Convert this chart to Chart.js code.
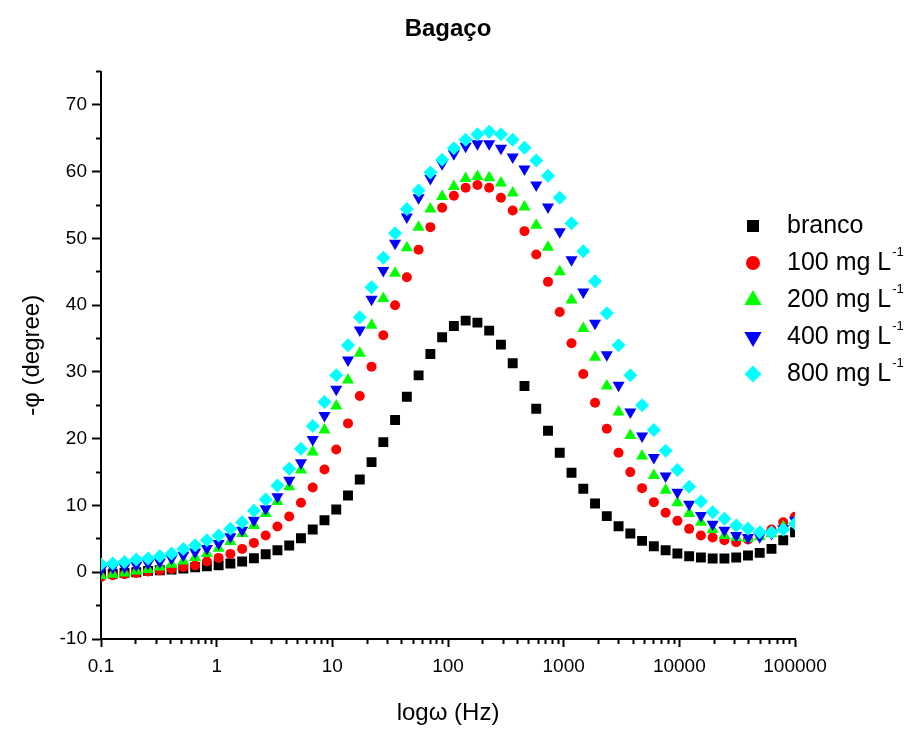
<!DOCTYPE html>
<html>
<head>
<meta charset="utf-8">
<title>Bagaço</title>
<script src="https://cdn.jsdelivr.net/npm/chart.js@4.4.0/dist/chart.umd.min.js"></script>
<style>
  body { margin: 0; background: #fff; }
  #wrap { width: 909px; height: 738px; }
</style>
</head>
<body>
<div id="wrap"><canvas id="grafico" width="909" height="738"></canvas></div>
<script>
// frequencias (Hz), 60 pontos de 0.1 a 100000
var freq = [0.1, 0.1264, 0.1597, 0.2018, 0.2551, 0.3224, 0.4074, 0.5149, 0.6511, 0.8228,
  1.040, 1.314, 1.661, 2.099, 2.653, 3.353, 4.238, 5.355, 6.768, 8.554,
  10.81, 13.66, 17.27, 21.83, 27.59, 34.87, 44.07, 55.70, 70.40, 88.97,
  112.4, 142.1, 179.6, 227.0, 286.9, 362.6, 458.3, 579.2, 732.0, 925.1,
  1169, 1478, 1867, 2360, 2983, 3770, 4764, 6022, 7611, 9619,
  12160, 15370, 19420, 24540, 31020, 39210, 49550, 62620, 79130, 100000];

// -fase (graus)
var branco = [-0.3, -0.2, -0.1, 0.0, 0.2, 0.3, 0.4, 0.55, 0.75, 0.9,
  1.05, 1.3, 1.6, 2.1, 2.7, 3.3, 4.0, 5.1, 6.4, 7.8,
  9.4, 11.5, 13.9, 16.5, 19.5, 22.8, 26.3, 29.5, 32.7, 35.2,
  36.9, 37.7, 37.4, 36.2, 34.1, 31.3, 27.9, 24.5, 21.2, 17.9,
  14.9, 12.5, 10.3, 8.4, 6.9, 5.8, 4.7, 3.9, 3.3, 2.8,
  2.4, 2.2, 2.05, 2.05, 2.2, 2.5, 2.9, 3.5, 4.8, 6.0];
var mg100 = [-0.7, -0.45, -0.3, -0.1, 0.1, 0.25, 0.5, 0.8, 1.0, 1.6,
  2.15, 2.75, 3.5, 4.4, 5.5, 6.85, 8.35, 10.4, 12.7, 15.4,
  18.4, 22.3, 26.4, 30.8, 35.5, 40.0, 44.2, 48.3, 51.7, 54.6,
  56.4, 57.6, 58.0, 57.6, 56.1, 54.2, 51.1, 47.6, 43.5, 39.0,
  34.3, 29.7, 25.4, 21.5, 17.9, 15.0, 12.6, 10.5, 8.9, 7.7,
  6.5, 5.5, 5.2, 4.8, 4.5, 4.9, 5.8, 6.4, 7.5, 8.3];
var mg200 = [-0.5, -0.3, -0.1, 0.2, 0.4, 0.8, 1.2, 1.7, 2.2, 2.8,
  3.6, 4.6, 5.8, 7.0, 8.8, 10.6, 12.8, 15.3, 18.0, 21.3,
  24.9, 28.8, 32.8, 37.0, 41.0, 44.8, 48.6, 51.7, 54.4, 56.3,
  57.8, 59.0, 59.3, 59.1, 58.3, 56.8, 54.7, 52.0, 48.7, 45.0,
  40.8, 36.5, 32.2, 27.9, 24.0, 20.5, 17.4, 14.5, 12.3, 10.4,
  8.8, 7.5, 6.4, 5.5, 5.2, 5.05, 5.3, 5.8, 6.8, 7.5];
var mg400 = [0.4, 0.7, 0.8, 1.05, 1.3, 1.55, 2.05, 2.55, 3.05, 3.55,
  4.3, 5.3, 6.3, 7.8, 9.5, 11.3, 13.8, 16.4, 19.9, 23.5,
  27.4, 31.8, 36.3, 40.9, 45.2, 49.3, 53.2, 56.1, 59.0, 61.2,
  62.7, 63.8, 64.2, 64.2, 63.5, 62.2, 60.4, 58.0, 54.7, 51.0,
  46.8, 42.0, 37.3, 32.6, 28.0, 24.0, 20.4, 17.2, 14.4, 12.0,
  10.2, 8.5, 7.2, 6.3, 5.5, 5.2, 5.3, 5.8, 6.5, 7.8];
var mg800 = [1.2, 1.3, 1.55, 1.9, 2.05, 2.4, 2.8, 3.5, 4.05, 4.8,
  5.5, 6.5, 7.5, 9.2, 10.9, 13.0, 15.5, 18.5, 21.9, 25.5,
  29.5, 34.0, 38.2, 42.7, 47.1, 50.8, 54.4, 57.2, 59.9, 61.8,
  63.5, 64.8, 65.6, 66.0, 65.6, 64.8, 63.6, 61.7, 59.4, 56.1,
  52.3, 48.1, 43.6, 38.8, 34.0, 29.5, 25.0, 21.3, 18.2, 15.3,
  12.8, 10.6, 9.0, 8.0, 7.0, 6.5, 6.0, 6.0, 6.4, 7.3];

var xTicks = [0.1, 1, 10, 100, 1000, 10000, 100000];
var xTickLabels = ['0.1', '1', '10', '100', '1000', '10000', '100000'];
var yTicks = [-10, 0, 10, 20, 30, 40, 50, 60, 70];
var yMinorTicks = [-5, 5, 15, 25, 35, 45, 55, 65, 75];

var fonte = '"Liberation Sans", Arial, sans-serif';

// ticks menores 2..9 de cada decada
var xMinorTicks = [];
for (var d = 0; d < xTicks.length - 1; d++) {
  for (var m = 2; m <= 9; m++) xMinorTicks.push(xTicks[d] * m);
}

function pares(ys) {
  return ys.map(function (v, i) { return { x: freq[i], y: v }; });
}

function serie(label, sup, ys, cor, estilo, raio, rot, ordem) {
  return {
    label: label,
    sobrescrito: sup,
    data: pares(ys),
    showLine: false,
    pointStyle: estilo,
    pointRadius: raio,
    pointRotation: rot,
    pointBackgroundColor: cor,
    pointBorderColor: cor,
    pointBorderWidth: 0,
    order: ordem
  };
}

// legenda desenhada dentro da area do grafico
var legenda = {
  id: 'legenda',
  afterDraw: function (chart) {
    var ctx = chart.ctx;
    var raios = { rect: 8.5, circle: 7, triangle: 10, rectRot: 8.5 };
    chart.data.datasets.forEach(function (ds, i) {
      var y = 226 + i * 37;
      ctx.save();
      ctx.fillStyle = ds.pointBackgroundColor;
      Chart.helpers.drawPoint(ctx, {
        pointStyle: ds.pointStyle,
        radius: raios[ds.pointStyle],
        rotation: ds.pointRotation,
        borderWidth: 0
      }, 753, y);
      ctx.fillStyle = '#000';
      ctx.textBaseline = 'middle';
      ctx.font = '25px ' + fonte;
      ctx.fillText(ds.label, 787, y);
      if (ds.sobrescrito) {
        var w = ctx.measureText(ds.label).width;
        ctx.font = '13px ' + fonte;
        ctx.fillText(ds.sobrescrito, 787 + w + 1, y - 11);
      }
      ctx.restore();
    });
  }
};

var ctx = document.getElementById('grafico').getContext('2d');
var grafico = new Chart(ctx, {
  type: 'scatter',
  data: {
    datasets: [
      serie('branco', '', branco, '#000000', 'rect', 7, 0, 5),
      serie('100 mg L', '-1', mg100, '#ff0000', 'circle', 5, 0, 4),
      serie('200 mg L', '-1', mg200, '#00ff00', 'triangle', 7, 0, 3),
      serie('400 mg L', '-1', mg400, '#0000ff', 'triangle', 7, 180, 2),
      serie('800 mg L', '-1', mg800, '#00ffff', 'rectRot', 7, 0, 1)
    ]
  },
  plugins: [legenda],
  options: {
    responsive: false,
    animation: false,
    events: [],
    layout: { padding: { left: 0, right: 114, top: 0, bottom: 0 } },
    plugins: {
      legend: { display: false },
      tooltip: { enabled: false },
      title: {
        display: true,
        text: 'Bagaço',
        fullSize: false,
        color: '#000',
        font: { family: fonte, size: 24, weight: 'bold' },
        padding: { top: 15, bottom: 27.8 }
      }
    },
    scales: {
      x: {
        type: 'logarithmic',
        position: 'bottom',
        weight: 10,
        min: 0.1,
        max: 100000,
        afterBuildTicks: function (s) { s.ticks = xTicks.map(function (v) { return { value: v }; }); },
        afterFit: function (s) { s.height = 99; },
        border: { display: true, color: '#000', width: 2 },
        grid: { drawOnChartArea: false, drawTicks: true, tickLength: 8, tickWidth: 2, tickColor: '#000' },
        ticks: {
          color: '#000',
          font: { family: fonte, size: 19 },
          padding: 8,
          maxRotation: 0,
          autoSkip: false,
          callback: function (v, i) { return xTickLabels[i]; }
        },
        title: {
          display: true,
          text: 'logω (Hz)',
          color: '#000',
          font: { family: fonte, size: 24 },
          padding: { top: 0, bottom: 10 }
        }
      },
      xMenor: {
        type: 'logarithmic',
        position: 'bottom',
        weight: 0,
        min: 0.1,
        max: 100000,
        afterBuildTicks: function (s) { s.ticks = xMinorTicks.map(function (v) { return { value: v }; }); },
        afterFit: function (s) { s.height = 0; },
        border: { display: false },
        grid: { drawOnChartArea: false, drawTicks: true, tickLength: 5, tickWidth: 2, tickColor: '#000' },
        ticks: { display: false }
      },
      y: {
        type: 'linear',
        position: 'left',
        weight: 10,
        min: -10,
        max: 75,
        afterBuildTicks: function (s) { s.ticks = yTicks.map(function (v) { return { value: v }; }); },
        afterFit: function (s) { s.width = 101; },
        border: { display: true, color: '#000', width: 2 },
        grid: { drawOnChartArea: false, drawTicks: true, tickLength: 9, tickWidth: 2, tickColor: '#000' },
        ticks: {
          color: '#000',
          font: { family: fonte, size: 19 },
          padding: 5,
          callback: function (v) { return String(v); }
        },
        title: {
          display: true,
          text: '-φ (degree)',
          color: '#000',
          font: { family: fonte, size: 24 },
          padding: { top: 18, bottom: 0 }
        }
      },
      yMenor: {
        type: 'linear',
        position: 'left',
        weight: 0,
        min: -10,
        max: 75,
        afterBuildTicks: function (s) { s.ticks = yMinorTicks.map(function (v) { return { value: v }; }); },
        afterFit: function (s) { s.width = 0; },
        border: { display: false },
        grid: { drawOnChartArea: false, drawTicks: true, tickLength: 5, tickWidth: 2, tickColor: '#000' },
        ticks: { display: false }
      }
    }
  }
});
</script>
</body>
</html>
